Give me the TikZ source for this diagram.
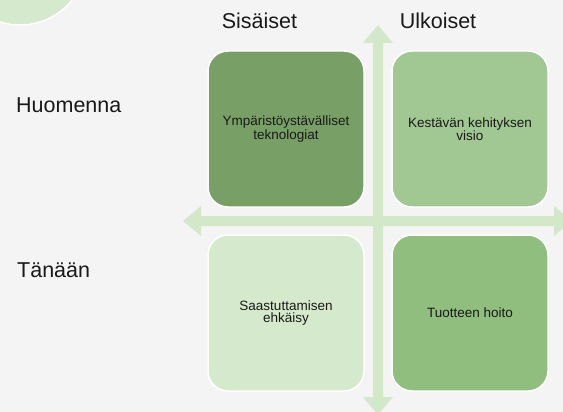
\documentclass[tikz,border=0pt]{standalone}
\usepackage{fontspec}
\setmainfont{Liberation Sans}
\definecolor{bggray}{RGB}{244,244,244}
\definecolor{arrowgreen}{RGB}{210,232,201}
\definecolor{darkgreen}{RGB}{120,160,102}
\definecolor{midgreen}{RGB}{161,200,146}
\definecolor{palegreen}{RGB}{213,234,205}
\definecolor{deepgreen}{RGB}{144,190,126}
\definecolor{inktext}{RGB}{25,25,25}
\tikzset{
  quad/.style={draw=white, line width=1.5pt, rounded corners=20pt,
    minimum width=156pt, minimum height=156pt, align=center,
    text=inktext, font=\fontsize{13.5}{12.5}\selectfont},
  axislabel/.style={text=inktext, font=\fontsize{21.5}{25}\selectfont, inner sep=0pt}
}
\begin{document}
\begin{tikzpicture}[x=1pt,y=-1pt]
  \useasboundingbox[fill=bggray] (0,0) rectangle (563,412);
  \clip (0,0) rectangle (563,412);

  \def\cx{378}
  \def\cy{221}
  \def\sw{5}
  \def\hw{15}
  \def\hl{18}

  % corner circle
  \fill[palegreen, draw=white, line width=1.5pt] (20,-42) circle (67pt);

  % axes
  \fill[arrowgreen] (\cx,25) -- (\cx+\hw,25+\hl) -- (\cx+\sw,25+\hl)
    -- (\cx+\sw,415-\hl) -- (\cx+\hw,415-\hl) -- (\cx,415)
    -- (\cx-\hw,415-\hl) -- (\cx-\sw,415-\hl) -- (\cx-\sw,25+\hl)
    -- (\cx-\hw,25+\hl) -- cycle;
  \fill[arrowgreen] (183,\cy) -- (183+\hl,\cy-\hw) -- (183+\hl,\cy-\sw)
    -- (572-\hl,\cy-\sw) -- (572-\hl,\cy-\hw) -- (572,\cy)
    -- (572-\hl,\cy+\hw) -- (572-\hl,\cy+\sw) -- (183+\hl,\cy+\sw)
    -- (183+\hl,\cy+\hw) -- cycle;

  % quadrants
  \node[quad, fill=darkgreen] (tech) at (286,129) {Ympäristöystävälliset\\teknologiat};
  \node[quad, fill=midgreen] (visio) at (470,129) {Kestävän kehityksen\\visio};
  \node[quad, fill=palegreen] (ehk) at (286,313) {Saastuttamisen\\ehkäisy};
  \node[quad, fill=deepgreen] (hoito) at (470,313) {Tuotteen hoito};

  % labels
  \node[axislabel, anchor=base] (sis) at (259.5,29) {Sisäiset};
  \node[axislabel, anchor=base] (ulk) at (438,29) {Ulkoiset};
  \node[axislabel, anchor=base west] (huom) at (16,113) {Huomenna};
  \node[axislabel, anchor=base west] (tana) at (17,277) {Tänään};
\end{tikzpicture}
\end{document}
